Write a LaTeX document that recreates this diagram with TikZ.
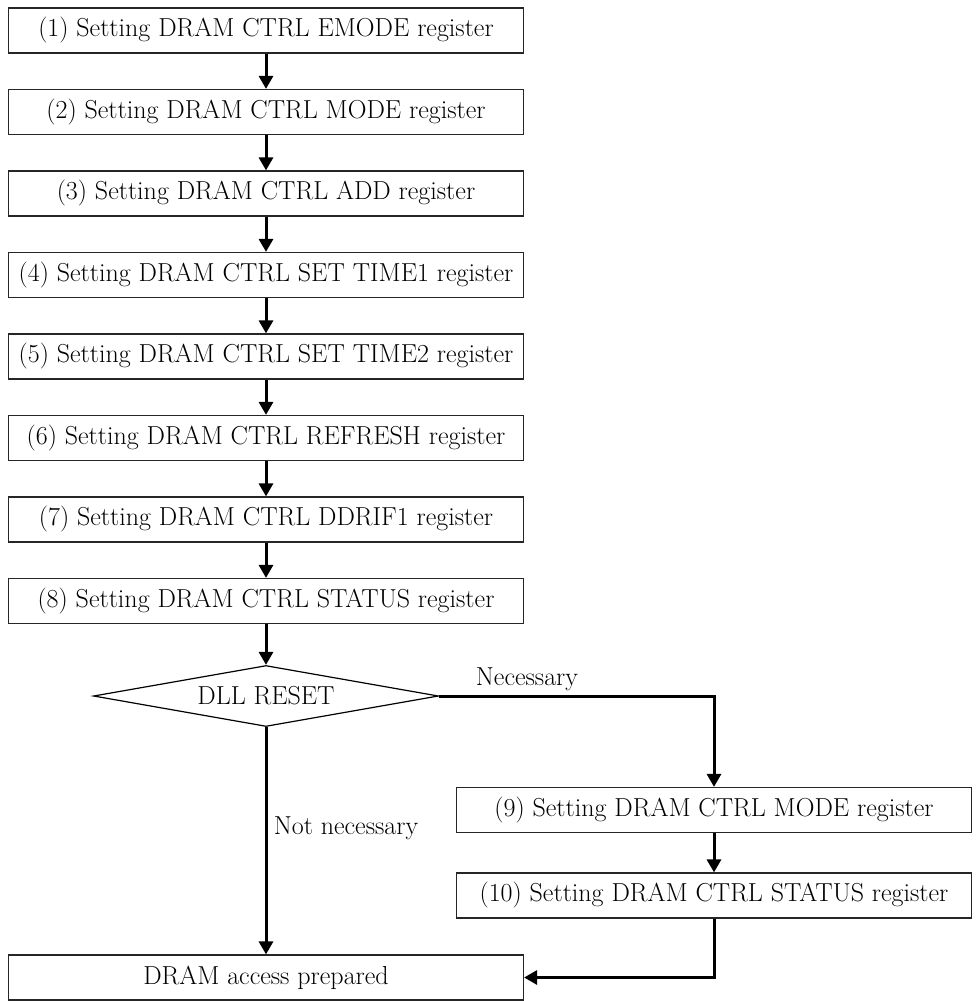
\documentclass[tikz,border=0pt]{standalone}
\usetikzlibrary{arrows.meta,shapes.geometric}
\begin{document}
\begin{tikzpicture}[x=1pt,y=-1pt,
  txt/.style={font=\fontsize{26}{31}\selectfont},
  box/.style={txt,draw=black!85,line width=1.2pt,minimum width=515pt,minimum height=45pt,inner sep=0pt},
  dec/.style={txt,draw=black,line width=1.2pt,diamond,aspect=5.66,minimum width=345pt,minimum height=61pt,inner sep=0pt},
  ln/.style={line width=3pt},
  arr/.style={ln,-{Triangle[length=13pt,width=14pt]}}]
\useasboundingbox (0,0) rectangle (976,1001);
\node[box] (b1) at (266,30.5) {(1) Setting DRAM CTRL EMODE register};
\node[box] (b2) at (266,112) {(2) Setting DRAM CTRL MODE register};
\node[box] (b3) at (266,193.5) {(3) Setting DRAM CTRL ADD register};
\node[box] (b4) at (266,275) {(4) Setting DRAM CTRL SET TIME1 register};
\node[box] (b5) at (266,356.5) {(5) Setting DRAM CTRL SET TIME2 register};
\node[box] (b6) at (266,438) {(6) Setting DRAM CTRL REFRESH register};
\node[box] (b7) at (266,519.5) {(7) Setting DRAM CTRL DDRIF1 register};
\node[box] (b8) at (266,601) {(8) Setting DRAM CTRL STATUS register};
\node[dec] (dll) at (266,696) {DLL RESET};
\node[box] (b9) at (714,810) {(9) Setting DRAM CTRL MODE register};
\node[box] (b10) at (714,895.5) {(10) Setting DRAM CTRL STATUS register};
\node[box] (fin) at (266,977.5) {DRAM access prepared};
\node[txt] (nec) at (527,679) {Necessary};
\node[txt] (notnec) at (346,828) {Not necessary};
\foreach \a/\b in {b1/b2,b2/b3,b3/b4,b4/b5,b5/b6,b6/b7,b7/b8,b8/dll,b9/b10}
  \draw[arr] (\a.south) -- (\b.north);
\draw[arr] (dll.east) -| (b9.north);
\draw[arr] (dll.south) -- (fin.north);
\draw[arr] (b10.south) |- (fin.east);
\end{tikzpicture}
\end{document}
